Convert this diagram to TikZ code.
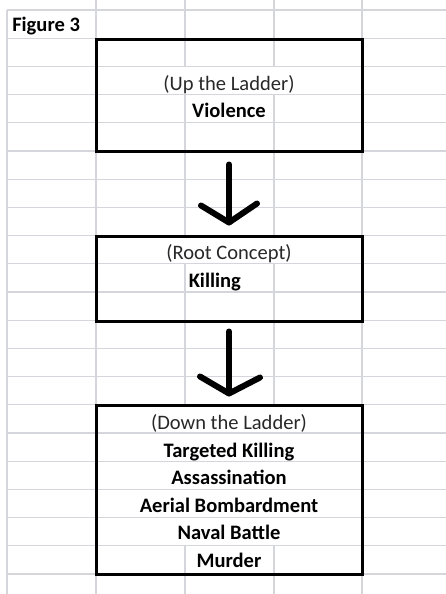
\documentclass[tikz,border=0pt]{standalone}
\usepackage{fontspec}
\setmainfont{Carlito}
\usetikzlibrary{calc}
\definecolor{gridc}{RGB}{212,214,220}
\definecolor{txtc}{RGB}{40,40,40}
\tikzset{
  gridline/.style={draw=gridc, line width=0.8pt},
  boxst/.style={draw=black, line width=2.25pt, minimum width=199.5pt, inner sep=0pt},
  lbl/.style={anchor=base, inner sep=0pt, text=txtc, font=\fontsize{15.4}{18}\selectfont},
  blbl/.style={anchor=base, inner sep=0pt, text=black, font=\bfseries\fontsize{15.4}{18}\selectfont},
  arrowline/.style={draw=black, line width=4.5pt, line cap=round, line join=round}
}
\begin{document}
\begin{tikzpicture}[x=0.75pt, y=-0.75pt]
\useasboundingbox (0,0) rectangle (446,594);
\fill[white] (0,0) rectangle (446,594);
% grid rows
\foreach \k in {0,...,20} {
  \draw[gridline] (7,{10+28.2*\k}) -- (446,{10+28.2*\k});
}
% grid columns
\draw[gridline] (7,10) -- (7,594);
\foreach \xx in {96,362} { \draw[gridline] (\xx,0) -- (\xx,594); }
\foreach \xx in {185,274} {
  \draw[gridline] (\xx,0) -- (\xx,66.4);
  \draw[gridline] (\xx,94.6) -- (\xx,235.6);
  \draw[gridline] (\xx,263.8) -- (\xx,404.8);
  \draw[gridline] (\xx,545.8) -- (\xx,594);
}
% title
\node[blbl, anchor=base west] (fig) at (12,31.7) {Figure 3};
% boxes
\node[boxst, minimum height=84pt] (b1) at (229,95) {};
\node[boxst, minimum height=63.75pt] (b2) at (229,278.5) {};
\node[boxst, minimum height=126.75pt] (b3) at (229,489.5) {};
% texts
\node[lbl] (up) at (229,90.7) {(Up the Ladder)};
\node[blbl] (viol) at (229,117) {Violence};
\node[lbl] (root) at (229,259) {(Root Concept)};
\node[blbl, anchor=base west] (kill) at (188.5,287) {Killing};
\node[lbl] (down) at (229,429) {(Down the Ladder)};
\node[blbl] (tk) at (229,457) {Targeted Killing};
\node[blbl] (ass) at (229,484.5) {Assassination};
\node[blbl] (aer) at (229,512) {Aerial Bombardment};
\node[blbl] (nav) at (229,539.5) {Naval Battle};
\node[blbl] (mur) at (229,567) {Murder};
% arrows
\coordinate (a1s) at ($(b1.south)+(0,12)$);
\coordinate (a1e) at ($(b2.north)+(0,-12)$);
\coordinate (a2s) at ($(b2.south)+(0,9)$);
\coordinate (a2e) at ($(b3.north)+(0,-10)$);
\draw[arrowline] (a1s) -- (a1e);
\draw[arrowline] ($(a1e)+(-28,-17)$) -- (a1e) -- ($(a1e)+(28,-19)$);
\draw[arrowline] (a2s) -- (a2e);
\draw[arrowline] ($(a2e)+(-29,-17)$) -- (a2e) -- ($(a2e)+(31,-16)$);
\end{tikzpicture}
\end{document}
